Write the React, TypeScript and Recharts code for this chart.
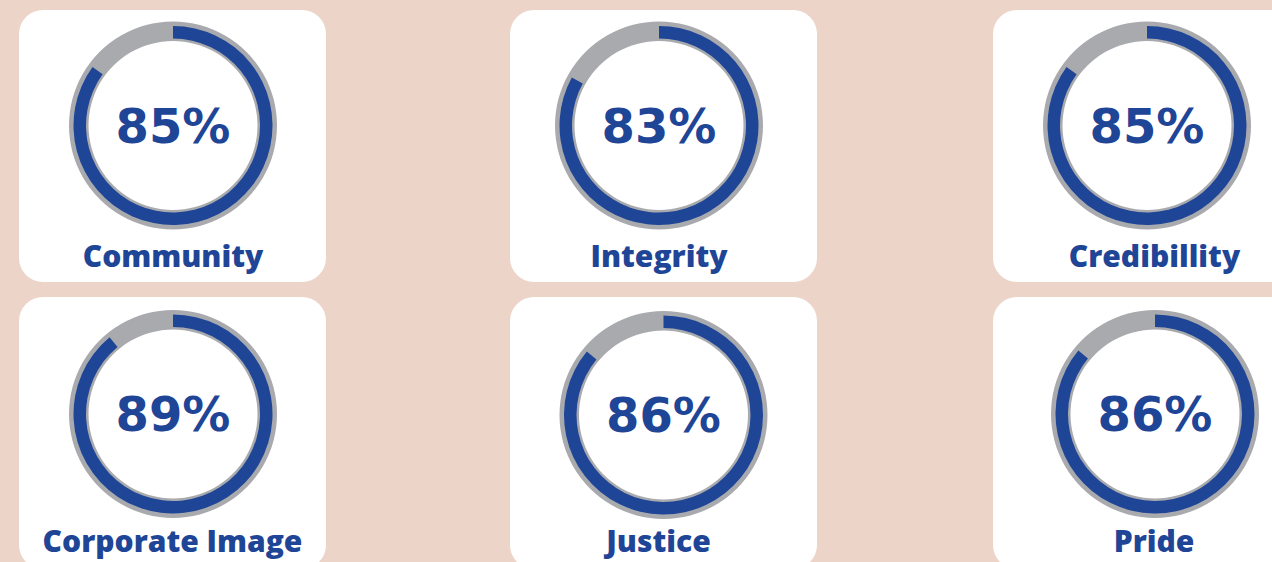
import { PieChart, Pie, Cell } from 'recharts';

const CATEGORIES = ['Community', 'Integrity', 'Credibillity', 'Corporate Image', 'Justice', 'Pride'];
const SCORES = [85, 83, 85, 89, 86, 86];

const BG = '#ecd4c8';
const BLUE = '#1f4597';
const GRAY = '#a9aaae';

// card placement: left/top on page, ring centre and label baseline inside the card
const CARD_LAYOUT = [
    { left: 19, top: 10, cx: 154, cy: 115.5, lx: 154, ly: 257 },
    { left: 510, top: 10, cx: 149, cy: 115.5, lx: 149, ly: 257 },
    { left: 993, top: 10, cx: 154, cy: 115.5, lx: 161.5, ly: 257 },
    { left: 19, top: 297, cx: 154, cy: 117, lx: 153.5, ly: 255 },
    { left: 510, top: 297, cx: 153.5, cy: 118, lx: 148.5, ly: 255 },
    { left: 993, top: 297, cx: 162, cy: 117, lx: 161, ly: 255 },
];

const CARD_W = 307;
const CARD_H = 272;
const PCT_SIZE = 48;

interface ScoreCardProps {
    name: string;
    score: number;
    layout: typeof CARD_LAYOUT[number];
}

function ScoreCard({ name, score, layout }: ScoreCardProps) {
    const track = [{ name: 'track', value: 100 }];
    const arc = [
        { name: 'score', value: score },
        { name: 'rest', value: 100 - score },
    ];

    return (
        <div
            style={{
                position: 'absolute',
                left: layout.left,
                top: layout.top,
                width: CARD_W,
                height: CARD_H,
                background: '#ffffff',
                borderRadius: 24,
            }}
        >
            <PieChart width={CARD_W} height={CARD_H} margin={{ top: 0, right: 0, bottom: 0, left: 0 }}>
                <Pie
                    data={track}
                    dataKey="value"
                    cx={layout.cx}
                    cy={layout.cy}
                    innerRadius={84.5}
                    outerRadius={104}
                    startAngle={90}
                    endAngle={-270}
                    stroke="none"
                    fill={GRAY}
                    isAnimationActive={false}
                />
                <Pie
                    data={arc}
                    dataKey="value"
                    cx={layout.cx}
                    cy={layout.cy}
                    innerRadius={87}
                    outerRadius={99.5}
                    startAngle={90}
                    endAngle={-270}
                    stroke="none"
                    isAnimationActive={false}
                >
                    <Cell fill={BLUE} />
                    <Cell fill="transparent" />
                </Pie>
            </PieChart>
            <svg width={CARD_W} height={CARD_H} style={{ position: 'absolute', left: 0, top: 0, pointerEvents: 'none' }}>
                <text
                    x={layout.cx}
                    y={layout.cy + PCT_SIZE * 0.36}
                    textAnchor="middle"
                    fill={BLUE}
                    fontFamily='"DejaVu Sans", sans-serif'
                    fontWeight={700}
                    fontSize={PCT_SIZE}
                >
                    {`${score}%`}
                </text>
                <text
                    x={layout.lx}
                    y={layout.ly}
                    textAnchor="middle"
                    fill={BLUE}
                    fontFamily='"Open Sans", sans-serif'
                    fontWeight={800}
                    fontSize={30}
                >
                    {name}
                </text>
            </svg>
        </div>
    );
}

function App() {
    return (
        <div
            style={{
                position: 'absolute',
                left: 0,
                top: 0,
                width: 1272,
                height: 562,
                overflow: 'hidden',
                background: BG,
            }}
        >
            {CATEGORIES.map((name, i) => (
                <ScoreCard key={name} name={name} score={SCORES[i]} layout={CARD_LAYOUT[i]} />
            ))}
        </div>
    );
}

export default App;
